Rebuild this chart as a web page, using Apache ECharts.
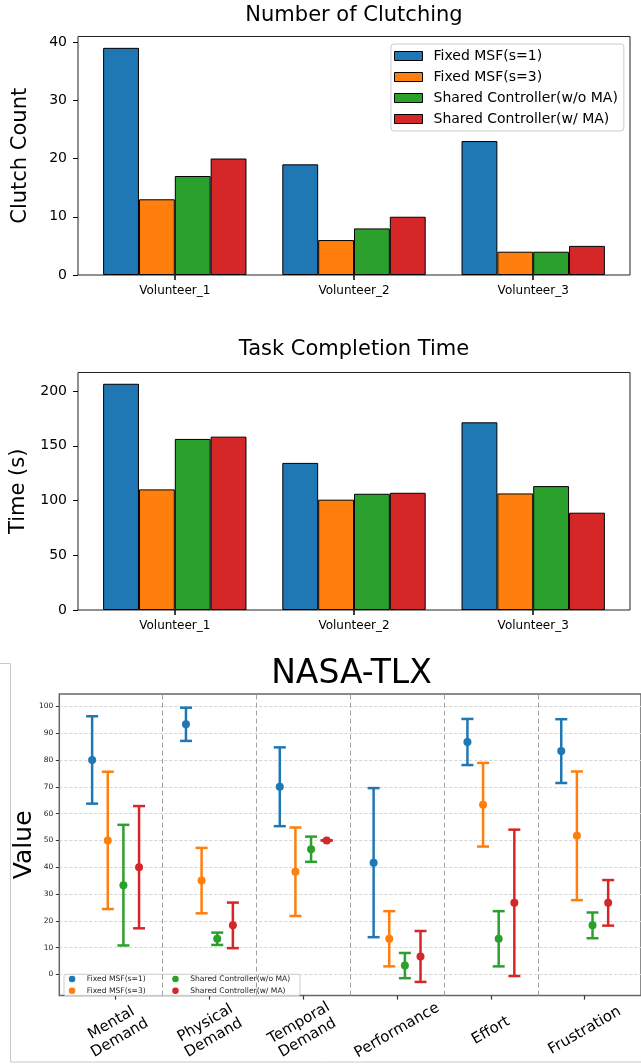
<!DOCTYPE html>
<html><head><meta charset="utf-8">
<script src="https://cdn.jsdelivr.net/npm/echarts@6/dist/echarts.min.js"></script>
<style>html,body{margin:0;padding:0;background:#fff}#c{width:641px;height:1064px}</style>
</head><body><div id="c"></div>
<script>
// ---------- data ----------
const volunteers = ['Volunteer_1', 'Volunteer_2', 'Volunteer_3'];
const methods = ['Fixed MSF(s=1)', 'Fixed MSF(s=3)', 'Shared Controller(w/o MA)', 'Shared Controller(w/ MA)'];
const colors = ['#1f77b4', '#ff7f0e', '#2ca02c', '#d62728'];

const clutchS1 = [39, 19, 23];
const clutchS3 = [13, 6, 4];
const clutchNoMA = [17, 8, 4];
const clutchMA = [20, 10, 5];

const timeS1 = [206.7, 134.4, 171.5];
const timeS3 = [110.2, 100.8, 106.5];
const timeNoMA = [156.3, 106.2, 113.2];
const timeMA = [158.4, 107.1, 88.9];

const clutchTicks = [0, 10, 20, 30, 40];
const timeTicks = [0, 50, 100, 150, 200];
const tlxTicks = [0, 10, 20, 30, 40, 50, 60, 70, 80, 90, 100];

const tlxCategories = ['Mental\nDemand', 'Physical\nDemand', 'Temporal\nDemand', 'Performance', 'Effort', 'Frustration'];
const tlxMeanS1 = [80.0, 93.3, 70.0, 41.7, 86.7, 83.3];
const tlxErrS1 = [16.3, 6.2, 14.7, 27.8, 8.6, 11.9];
const tlxMeanS3 = [50.0, 35.0, 38.3, 13.3, 63.3, 51.7];
const tlxErrS3 = [25.6, 12.2, 16.5, 10.3, 15.6, 24.0];
const tlxMeanNoMA = [33.3, 13.3, 46.7, 3.3, 13.3, 18.3];
const tlxErrNoMA = [22.5, 2.3, 4.7, 4.7, 10.3, 4.8];
const tlxMeanMA = [40.0, 18.3, 50.0, 6.7, 26.7, 26.7];
const tlxErrMA = [22.8, 8.5, 0.0, 9.5, 27.3, 8.5];

// ---------- build ----------
const FONT = 'DejaVu Sans';
const clutchSets = [clutchS1, clutchS3, clutchNoMA, clutchMA];
const timeSets = [timeS1, timeS3, timeNoMA, timeMA];
const tlxMeans = [tlxMeanS1, tlxMeanS3, tlxMeanNoMA, tlxMeanMA];
const tlxErrs = [tlxErrS1, tlxErrS3, tlxErrNoMA, tlxErrMA];
const dodge = [-0.25, -0.0833, 0.0833, 0.25];
const separators = [0.5, 1.5, 2.5, 3.5, 4.5];
const tlxIdx = tlxCategories.map((_, i) => i);

function valueAxisY(grid, max, ticks, name, gap) {
  return {
    gridIndex: grid, type: 'value', min: 0, max: max,
    axisLine: {show: false, onZero: false}, splitLine: {show: false},
    axisTick: {show: true, customValues: ticks, length: 5, lineStyle: {color: '#000', width: 1}},
    axisLabel: {customValues: ticks, fontSize: 14, margin: 11, color: '#000', fontFamily: FONT},
    name: name, nameLocation: 'middle', nameRotate: 90, nameGap: gap,
    nameTextStyle: {fontSize: 21, color: '#000', fontFamily: FONT}
  };
}
function catAxisX(grid) {
  return {
    gridIndex: grid, type: 'category', data: volunteers,
    axisLine: {show: false, onZero: false},
    axisTick: {show: true, alignWithLabel: true, length: 5, lineStyle: {color: '#000', width: 1.5}},
    axisLabel: {fontSize: 12, margin: 10, color: '#000', fontFamily: FONT}
  };
}

const series = [];
methods.forEach((m, k) => {
  series.push({
    name: m, type: 'bar', xAxisIndex: 1, yAxisIndex: 1, data: clutchSets[k],
    barGap: '0%', barCategoryGap: '20%',
    itemStyle: {color: colors[k], borderColor: '#000', borderWidth: 1}
  });
});
methods.forEach((m, k) => {
  series.push({
    name: m, type: 'bar', xAxisIndex: 3, yAxisIndex: 3, data: timeSets[k],
    barGap: '0%', barCategoryGap: '20%',
    itemStyle: {color: colors[k], borderColor: '#000', borderWidth: 1}
  });
});
methods.forEach((m, k) => {
  const errData = tlxIdx.map(i => [i + dodge[k], tlxMeans[k][i] - tlxErrs[k][i], tlxMeans[k][i] + tlxErrs[k][i]]);
  series.push({
    name: m, type: 'custom', xAxisIndex: 4, yAxisIndex: 4, z: 2,
    encode: {x: 0, y: [1, 2]},
    data: errData,
    renderItem: function (params, api) {
      const x = api.value(0), lo = api.value(1), hi = api.value(2);
      const pt = api.coord([x, hi]), pb = api.coord([x, lo]);
      const h = 6;
      const st = {stroke: colors[k], lineWidth: 2.5};
      return {type: 'group', children: [
        {type: 'line', shape: {x1: pt[0], y1: pt[1], x2: pb[0], y2: pb[1]}, style: st},
        {type: 'line', shape: {x1: pt[0] - h, y1: pt[1], x2: pt[0] + h, y2: pt[1]}, style: st},
        {type: 'line', shape: {x1: pb[0] - h, y1: pb[1], x2: pb[0] + h, y2: pb[1]}, style: st}
      ]};
    }
  });
  const s = {
    name: m, type: 'scatter', xAxisIndex: 4, yAxisIndex: 4, z: 3,
    symbol: 'circle', symbolSize: 8,
    itemStyle: {color: colors[k], opacity: 1},
    data: tlxIdx.map(i => [i + dodge[k], tlxMeans[k][i]])
  };
  if (k === 0) {
    s.markLine = {
      silent: true, symbol: 'none', label: {show: false},
      lineStyle: {color: '#a0a0a0', type: [5, 3], width: 1},
      data: separators.map(v => ({xAxis: v}))
    };
  }
  series.push(s);
});

const option = {
  animation: false,
  backgroundColor: '#fff',
  textStyle: {fontFamily: FONT},
  color: colors,
  title: [
    {text: 'Number of Clutching', left: 354, top: 5, textAlign: 'center', padding: 0,
     textStyle: {fontSize: 21, fontWeight: 'normal', color: '#000', fontFamily: FONT}},
    {text: 'Task Completion Time', left: 354, top: 339, textAlign: 'center', padding: 0,
     textStyle: {fontSize: 21, fontWeight: 'normal', color: '#000', fontFamily: FONT}},
    {text: 'NASA-TLX', left: 351.5, top: 658, textAlign: 'center', padding: 0,
     textStyle: {fontSize: 33, fontWeight: 'normal', color: '#000', fontFamily: FONT}}
  ],
  grid: [
    {left: 78, top: 36.5, width: 552, height: 238.5, show: true, borderColor: '#222', borderWidth: 1, backgroundColor: '#fff'},
    {left: 85.2, top: 36.5, width: 537.6, height: 238.5, show: false},
    {left: 78, top: 372.5, width: 552, height: 237.5, show: true, borderColor: '#222', borderWidth: 1, backgroundColor: '#fff'},
    {left: 85.2, top: 372.5, width: 537.6, height: 237.5, show: false},
    {left: 59.3, top: 694, width: 584, height: 306, show: true, borderColor: '#666', borderWidth: 1.5, backgroundColor: '#fff'}
  ],
  xAxis: [
    {gridIndex: 0, type: 'value', min: 0, max: 1, show: false},
    catAxisX(1),
    {gridIndex: 2, type: 'value', min: 0, max: 1, show: false},
    catAxisX(3),
    {
      gridIndex: 4, type: 'value', min: -0.6, max: 5.6,
      axisLine: {show: false, onZero: false}, splitLine: {show: false},
      axisTick: {show: true, customValues: tlxIdx, length: 4, lineStyle: {color: '#333', width: 1.2}},
      axisLabel: {customValues: tlxIdx, formatter: v => tlxCategories[Math.round(v)],
        rotate: 30, align: 'center', verticalAlign: 'middle', margin: 35,
        fontSize: 15, lineHeight: 17, color: '#000', fontFamily: FONT}
    }
  ],
  yAxis: [
    valueAxisY(0, 40.95, clutchTicks, 'Clutch Count', 47),
    {gridIndex: 1, type: 'value', min: 0, max: 40.95, show: false},
    valueAxisY(2, 217.0, timeTicks, 'Time (s)', 42),
    {gridIndex: 3, type: 'value', min: 0, max: 217.0, show: false},
    {
      gridIndex: 4, type: 'value', min: -7.9, max: 104.6,
      axisLine: {show: false, onZero: false},
      splitLine: {show: true, lineStyle: {color: '#d4d4d4', type: [3, 2], width: 1}},
      axisTick: {show: true, customValues: tlxTicks, length: 3.5, lineStyle: {color: '#333', width: 1}},
      axisLabel: {customValues: tlxTicks, fontSize: 7.5, margin: 6, color: '#222', fontFamily: FONT},
      name: 'Value', nameLocation: 'middle', nameRotate: 90, nameGap: 22, nameMoveOverlap: false,
      nameTextStyle: {fontSize: 25, color: '#000', fontFamily: FONT}
    }
  ],
  legend: [
    {
      data: methods, orient: 'vertical', left: 391, top: 44, padding: [5, 6, 5, 3],
      icon: 'rect', itemWidth: 28, itemHeight: 9, itemGap: 7,
      itemStyle: {borderColor: '#000', borderWidth: 1},
      textStyle: {fontSize: 14, lineHeight: 14, color: '#000', fontFamily: FONT, padding: [0, 0, 0, 6]},
      backgroundColor: 'rgba(255,255,255,0.85)', borderColor: '#ccc', borderWidth: 1, borderRadius: 3,
      selectedMode: false
    },
    {
      data: [methods[0], methods[1]], orient: 'vertical', left: 68.8, top: 974.5, padding: 0,
      icon: 'circle', itemWidth: 6.5, itemHeight: 6.5, itemGap: 2.7,
      itemStyle: {borderWidth: 0},
      textStyle: {fontSize: 7.6, lineHeight: 9, color: '#222', fontFamily: FONT, padding: [0, 0, 0, 6.5]},
      selectedMode: false
    },
    {
      data: [methods[2], methods[3]], orient: 'vertical', left: 172.2, top: 974.5, padding: 0,
      icon: 'circle', itemWidth: 6.5, itemHeight: 6.5, itemGap: 2.7,
      itemStyle: {borderWidth: 0},
      textStyle: {fontSize: 7.6, lineHeight: 9, color: '#222', fontFamily: FONT, padding: [0, 0, 0, 6.5]},
      selectedMode: false
    }
  ],
  graphic: [
    {type: 'rect', z: 3, shape: {x: 64, y: 974.3, width: 236, height: 21.4, r: 2},
     style: {fill: 'rgba(255,255,255,0.8)', stroke: '#ccc', lineWidth: 1}},
    {type: 'line', z: 1, shape: {x1: 0, y1: 663.5, x2: 10.5, y2: 663.5}, style: {stroke: '#c8c8c8', lineWidth: 1}},
    {type: 'line', z: 1, shape: {x1: 10.5, y1: 663.5, x2: 10.5, y2: 1062}, style: {stroke: '#c8c8c8', lineWidth: 1}},
    {type: 'line', z: 1, shape: {x1: 10.5, y1: 1062, x2: 641, y2: 1062}, style: {stroke: '#c8c8c8', lineWidth: 1}}
  ],
  series: series
};

const chart = echarts.init(document.getElementById('c'), null, {renderer: 'canvas'});
chart.setOption(option);
</script>
</body></html>
